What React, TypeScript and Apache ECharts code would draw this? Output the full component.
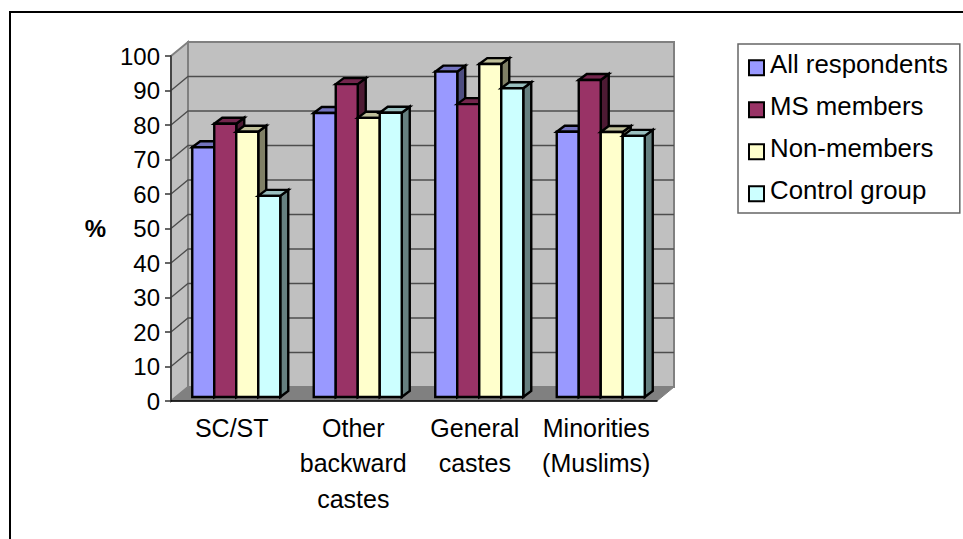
import React, { useEffect, useRef } from "react";
import * as echarts from "echarts";

// Share of respondents (%) by caste group and membership status
const categories = ["SC/ST", "Other\nbackward\ncastes", "General\ncastes", "Minorities\n(Muslims)"];
const allRespondents = [72.4, 82.3, 94.3, 76.9];
const msMembers = [79.2, 90.7, 84.9, 91.9];
const nonMembers = [76.9, 80.9, 96.5, 76.8];
const controlGroup = [58.3, 82.4, 89.5, 75.7];
const seriesNames = ["All respondents", "MS members", "Non-members", "Control group"];
const seriesValues = [allRespondents, msMembers, nonMembers, controlGroup];
const seriesColors = ["#9999ff", "#993366", "#ffffcc", "#ccffff"];

const FONT = '"Liberation Sans", Arial, sans-serif';
// Oblique projection of the chart box and of each bar
const WALL_DX = 17;
const WALL_DY = -14;
const BAR_DEPTH_X = 8;
const BAR_DEPTH_Y = -6;
const FLOOR_LIFT = -4;
const GROUP_SHIFT = 4.5;
const BAR_WIDTH = 22;

// Legend swatch: the empty move at the origin reserves room above the square,
// so the square sits lower than the centre of its label
const LEGEND_SWATCH = "path://M0 0L0 0M0 8H16V24H0Z";

// Darken a hex colour by a factor, for the shaded faces of a bar
function shade(hex: string, k: number): string {
  const n = parseInt(hex.slice(1), 16);
  const c = [(n >> 16) & 255, (n >> 8) & 255, n & 255].map((v) => Math.round(v * k));
  return `rgb(${c[0]},${c[1]},${c[2]})`;
}

function poly(points: number[][], style: Record<string, unknown>) {
  return { type: "polygon", shape: { points }, style };
}

function renderWalls(params: any, api: any) {
  const g = params.coordSys;
  const x0 = g.x;
  const x1 = g.x + g.width;
  const yTop = g.y;
  const yBase = g.y + g.height;
  const wall = { fill: "#c0c0c0", stroke: "#808080", lineWidth: 2 };
  const children: any[] = [
    poly([[x0, yTop], [x0 + WALL_DX, yTop + WALL_DY], [x0 + WALL_DX, yBase + WALL_DY], [x0, yBase]], wall),
    poly([[x0 + WALL_DX, yTop + WALL_DY], [x1 + WALL_DX, yTop + WALL_DY], [x1 + WALL_DX, yBase + WALL_DY], [x0 + WALL_DX, yBase + WALL_DY]], wall),
    poly([[x0, yBase], [x0 + WALL_DX, yBase + WALL_DY], [x1 + WALL_DX, yBase + WALL_DY], [x1, yBase]], { fill: "#808080", stroke: "#808080", lineWidth: 1 }),
  ];
  // Gridlines run across the side wall and then along the back wall
  for (let v = 10; v < 100; v += 10) {
    const y = api.coord([0, v])[1];
    children.push({
      type: "polyline",
      shape: { points: [[x0, y], [x0 + WALL_DX, y + WALL_DY], [x1 + WALL_DX, y + WALL_DY]] },
      style: { fill: "none", stroke: "#4d4d4d", lineWidth: 1.3 },
    });
  }
  return { type: "group", children };
}

function makeBarRenderer(seriesIndex: number, color: string) {
  return (_params: any, api: any) => {
    const c = api.coord([api.value(0), api.value(1)]);
    const base = api.coord([api.value(0), 0]);
    const left = c[0] + GROUP_SHIFT + (seriesIndex - 2) * BAR_WIDTH;
    const right = left + BAR_WIDTH;
    const top = c[1] + FLOOR_LIFT;
    const bottom = base[1] + FLOOR_LIFT;
    const edge = { stroke: "#000000", lineWidth: 2.4, lineJoin: "miter" };
    return {
      type: "group",
      children: [
        poly([[right, top], [right + BAR_DEPTH_X, top + BAR_DEPTH_Y], [right + BAR_DEPTH_X, bottom + BAR_DEPTH_Y], [right, bottom]], { fill: shade(color, 0.5), ...edge }),
        poly([[left, top], [left + BAR_DEPTH_X, top + BAR_DEPTH_Y], [right + BAR_DEPTH_X, top + BAR_DEPTH_Y], [right, top]], { fill: shade(color, 0.75), ...edge }),
        { type: "rect", shape: { x: left, y: top, width: BAR_WIDTH, height: bottom - top }, style: { fill: color, ...edge } },
      ],
    };
  };
}

export default function App() {
  const ref = useRef<HTMLDivElement>(null);

  useEffect(() => {
    document.body.style.margin = "0";
    const chart = echarts.init(ref.current!, null, { renderer: "svg" });
    chart.setOption({
      animation: false,
      backgroundColor: "#ffffff",
      textStyle: { fontFamily: FONT },
      graphic: [
        { type: "line", shape: { x1: 10, y1: 12, x2: 963, y2: 12 }, style: { stroke: "#000", lineWidth: 2 } },
        { type: "line", shape: { x1: 10, y1: 11, x2: 10, y2: 539 }, style: { stroke: "#000", lineWidth: 2 } },
      ],
      grid: { left: 171, top: 56, width: 486, height: 345, containLabel: false },
      xAxis: {
        type: "category",
        data: categories,
        z: 5,
        axisLine: { lineStyle: { color: "#000", width: 1.5 } },
        axisTick: { length: 7, lineStyle: { color: "#333", width: 1.5 }, alignWithLabel: false },
        axisLabel: { color: "#000", fontSize: 25, fontFamily: FONT, lineHeight: 35.5, margin: 9, interval: 0 },
      },
      yAxis: {
        type: "value",
        min: 0,
        max: 100,
        interval: 10,
        z: 5,
        name: "%",
        nameLocation: "middle",
        nameRotate: 0,
        nameGap: 65,
        nameTextStyle: { color: "#000", fontSize: 24, fontWeight: "bold", fontFamily: FONT },
        axisLine: { show: true, lineStyle: { color: "#333", width: 1.5 } },
        axisTick: { show: true, length: 6, lineStyle: { color: "#333", width: 1.5 } },
        axisLabel: { color: "#000", fontSize: 24, fontFamily: FONT, margin: 11 },
        splitLine: { show: false },
      },
      legend: {
        left: 738,
        top: 44,
        orient: "vertical",
        align: "left",
        padding: [7, 12, 10, 10],
        backgroundColor: "#ffffff",
        borderColor: "#666666",
        borderWidth: 1.5,
        borderRadius: 0,
        itemGap: 16,
        itemWidth: 15,
        itemHeight: 24,
        icon: LEGEND_SWATCH,
        data: seriesNames,
        textStyle: { color: "#000", fontSize: 25.8, fontFamily: FONT, padding: [0, 0, 0, 1] },
      },
      series: [
        {
          type: "custom",
          name: "walls",
          z: 1,
          silent: true,
          renderItem: renderWalls,
          data: [[0, 0]],
          encode: { x: 0, y: 1 },
        },
        ...seriesNames.map((name, i) => ({
          type: "custom",
          name,
          z: 3,
          itemStyle: { color: seriesColors[i], borderColor: "#000", borderWidth: 2 },
          renderItem: makeBarRenderer(i, seriesColors[i]),
          data: seriesValues[i].map((v, k) => [k, v]),
          encode: { x: 0, y: 1 },
        })),
      ],
    });
    return () => chart.dispose();
  }, []);

  return <div ref={ref} style={{ width: 963, height: 539 }} />;
}
